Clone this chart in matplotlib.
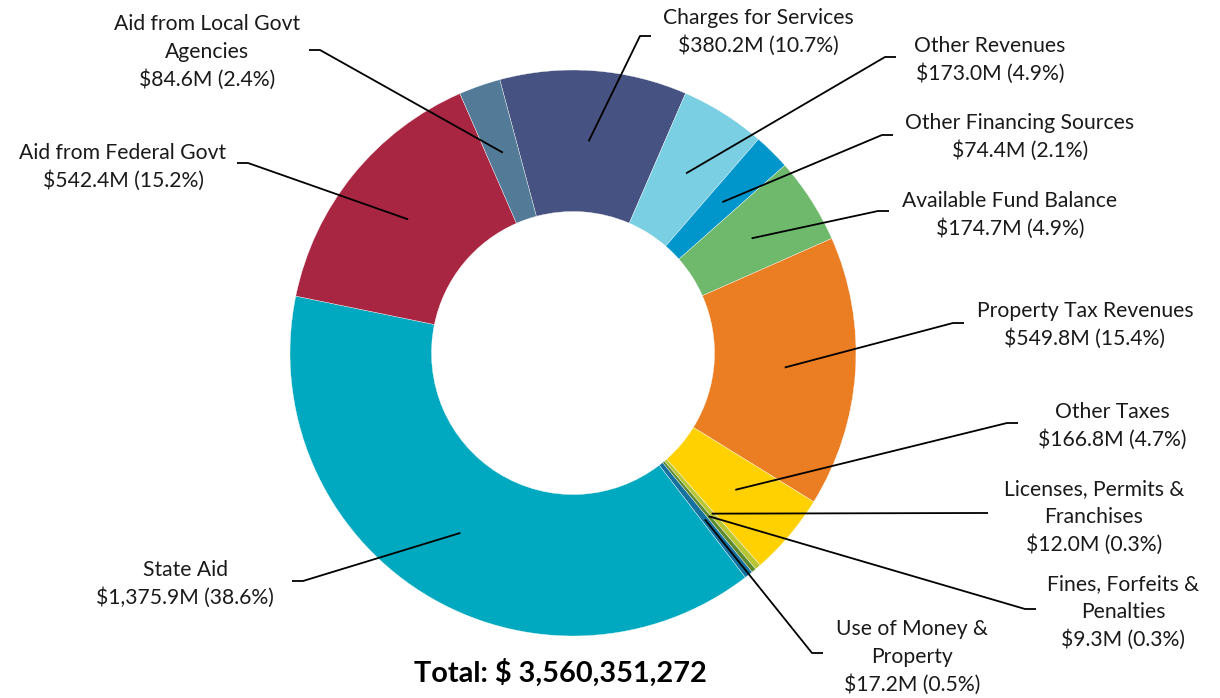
import numpy as np
import matplotlib.pyplot as plt

# ---------------- data ----------------
categories = [
    "Charges for Services", "Other Revenues", "Other Financing Sources",
    "Available Fund Balance", "Property Tax Revenues", "Other Taxes",
    "Licenses, Permits &\nFranchises", "Fines, Forfeits &\nPenalties",
    "Use of Money &\nProperty", "State Aid", "Aid from Federal Govt",
    "Aid from Local Govt\nAgencies",
]
values_m = [380.2, 173.0, 74.4, 174.7, 549.8, 166.8, 12.0, 9.3, 17.2,
            1375.9, 542.4, 84.6]
total_text = "Total: $ 3,560,351,272"

colors = ["#465281", "#7ACFE3", "#0096CC", "#6FB96C", "#EB7D22", "#FFD100",
          "#B8C634", "#5E8A2E", "#17719F", "#00A9BF", "#A82641", "#537B97"]

# label layout in pixels: text centre, elbow point, side of the short tick
label_pos = [(758, 32), (990, 60), (1020, 137), (1010, 215), (1085, 325),
             (1112, 426), (1094, 517), (1123, 612), (912, 657), (185, 584),
             (123, 167), (207, 52)]
elbows = [(640, 36), (885, 57), (882, 135), (878, 211), (953, 323),
          (1007, 423), (977, 513), (1025, 609), (812, 653), (303, 581),
          (248, 163), (320, 50)]
sides = [1, 1, 1, 1, 1, 1, 1, 1, 1, -1, -1, -1]

W, H = 1220, 698
CX, CY, R = 573, 353, 283


def px(x, y):
    return (x - CX) / R, (CY - y) / R


plt.rcParams["font.family"] = ["Lato", "DejaVu Sans"]

fig = plt.figure(figsize=(W / 100, H / 100), dpi=100)
ax = fig.add_axes([0, 0, 1, 1])

wedges, _ = ax.pie(
    values_m, colors=colors, startangle=105, counterclock=False,
    radius=1, center=(0, 0),
    wedgeprops=dict(width=0.5, edgecolor="white", linewidth=0.25),
)

total = sum(values_m)
for w, cat, v, (tx, ty), (ex, ey), s in zip(wedges, categories, values_m,
                                             label_pos, elbows, sides):
    ang = np.deg2rad((w.theta1 + w.theta2) / 2)
    sx, sy = 0.75 * np.cos(ang), 0.75 * np.sin(ang)
    exd, eyd = px(ex, ey)
    hx, _ = px(ex + s * 11, ey)
    ax.plot([sx, exd, hx], [sy, eyd, eyd], color="black", lw=1.3,
            solid_capstyle="butt", zorder=4)
    label = f"{cat}\n${v:,.1f}M ({v / total * 100:.1f}%)"
    x, y = px(tx, ty)
    ax.text(x, y, label, ha="center", va="center", multialignment="center",
            fontsize=15.2, linespacing=1.46, color="#1a1a1a")

x, y = px(560, 673)
ax.text(x, y, total_text, ha="center", va="center", fontsize=20.8,
        fontweight="bold", color="black")

ax.set_xlim(-CX / R, (W - CX) / R)
ax.set_ylim(-(H - CY) / R, CY / R)
ax.set_aspect("auto")
ax.axis("off")

fig.savefig("out.png", dpi=100)
